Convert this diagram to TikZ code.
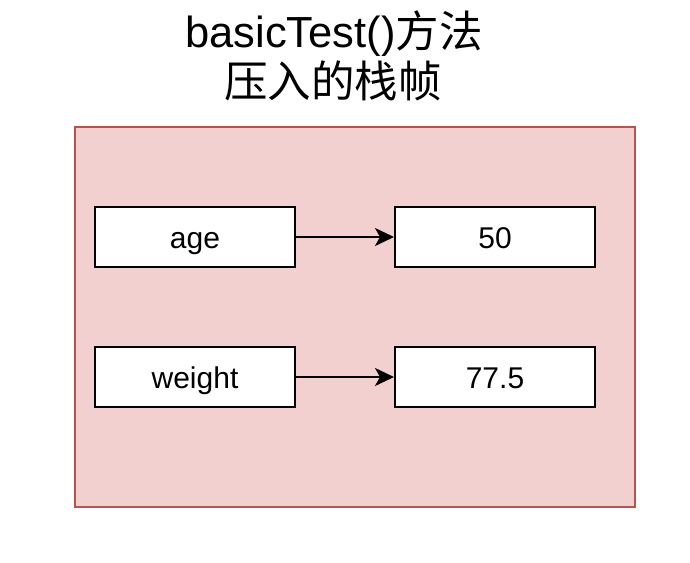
\documentclass[tikz,border=0pt]{standalone}
\usepackage{fontspec}
\setmainfont{Liberation Sans}
\newfontfamily\cjk{Noto Sans CJK SC}
\usetikzlibrary{arrows.meta}
\definecolor{framefill}{RGB}{242,208,207}
\definecolor{framedraw}{HTML}{B85450}
\tikzset{
  cell/.style={draw=black, line width=2pt, fill=white, minimum width=200pt, minimum height=60pt, inner sep=0pt},
  celltext/.style={anchor=base, font=\fontsize{30pt}{34pt}\selectfont, inner sep=0pt},
  titletext/.style={anchor=base, font=\fontsize{43.5pt}{50pt}\selectfont, inner sep=0pt},
  link/.style={line width=2pt, -{Stealth[length=19pt, width=18pt, inset=5pt]}}
}
\begin{document}
\begin{tikzpicture}[x=1pt, y=-1pt]
\useasboundingbox (0,0) rectangle (690,562);
\node[titletext] (t1) at (334,47) {basicTest(){\cjk 方法}};
\node[titletext] (t2) at (333,97) {\cjk 压入的栈帧};
\node[draw=framedraw, fill=framefill, line width=2pt, minimum width=560pt, minimum height=380pt, inner sep=0pt] (frame) at (355,317) {};
\node[cell] (age) at (195,237) {};
\node[cell] (v50) at (495,237) {};
\node[cell] (weight) at (195,377) {};
\node[cell] (v775) at (495,377) {};
\node[celltext] (tage) at (195,248) {age};
\node[celltext] (t50) at (495,248) {50};
\node[celltext] (tweight) at (195,388) {weight};
\node[celltext] (t775) at (495,388) {77.5};
\draw[link] (age.east) -- (v50.west);
\draw[link] (weight.east) -- (v775.west);
\end{tikzpicture}
\end{document}
